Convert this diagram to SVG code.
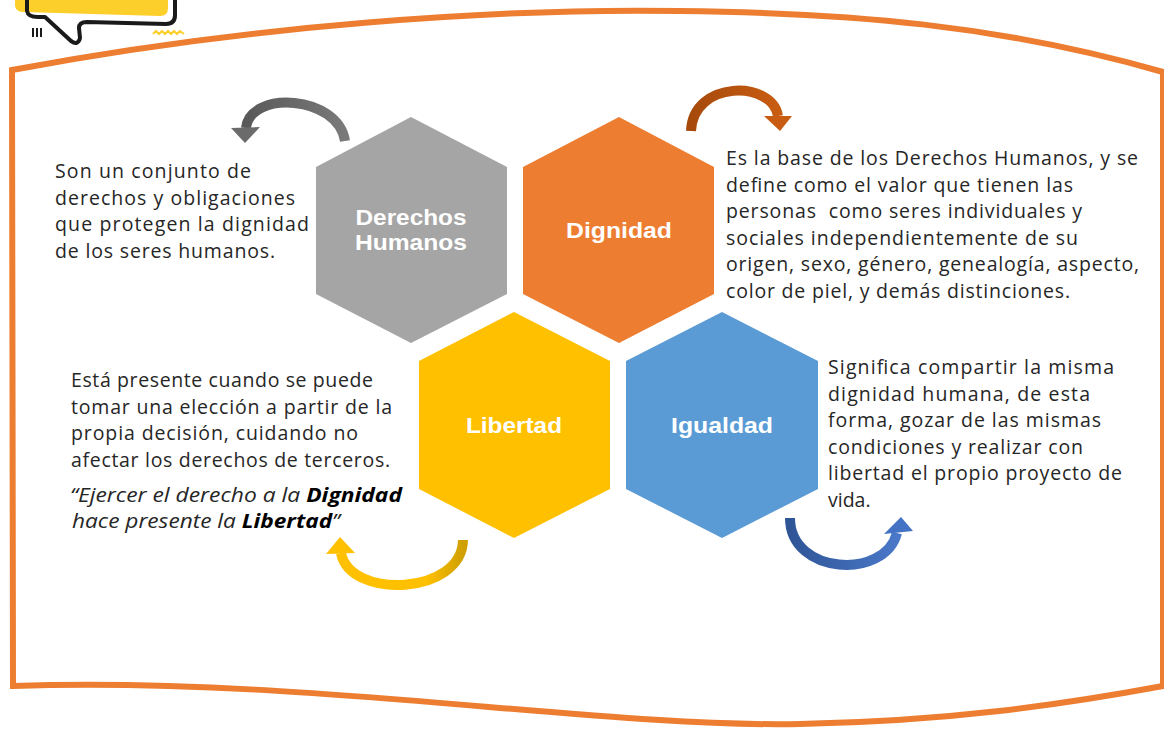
<svg xmlns="http://www.w3.org/2000/svg" width="1164" height="729" viewBox="0 0 1164 729">
  <style>
    .body { font-family: "Open Sans", "Liberation Sans", sans-serif; font-size: 19.5px; fill: #262626; }
    .lbl { font-family: "Liberation Sans", Arial, sans-serif; font-size: 22.5px; font-weight: 700; fill: #ffffff; text-anchor: middle; }
    .it { font-style: italic; }
    .bi { font-style: italic; font-weight: 700; fill: #000; }
    .arc { fill: none; stroke-width: 10; stroke-linecap: butt; }
  </style>
  <defs>
    <linearGradient id="gGray" x1="0" y1="0" x2="1" y2="0">
      <stop offset="0" stop-color="#595959"/><stop offset="1" stop-color="#7a7a7a"/>
    </linearGradient>
    <linearGradient id="gOrange" x1="0" y1="0" x2="1" y2="0">
      <stop offset="0" stop-color="#A64A0C"/><stop offset="1" stop-color="#C85C12"/>
    </linearGradient>
    <linearGradient id="gYellow" x1="0" y1="0" x2="1" y2="0">
      <stop offset="0" stop-color="#FFC000"/><stop offset="0.7" stop-color="#FFC000"/><stop offset="1" stop-color="#CFA000"/>
    </linearGradient>
    <linearGradient id="gBlue" x1="0" y1="0" x2="1" y2="0">
      <stop offset="0" stop-color="#2F5597"/><stop offset="1" stop-color="#4A78C8"/>
    </linearGradient>
  </defs>

  <rect width="1164" height="729" fill="#ffffff"/>

  <!-- frame -->
  <g id="frame">
    <path d="M12,70 C250,25 500,8 680,11 C850,13 1000,25 1163,72 L1163,686 C1060,705 950,721 800,724 C600,728 300,676 13,686 Z" fill="none" stroke="#ED7D31" stroke-width="6" stroke-linejoin="miter"/>
  </g>

  <!-- speech bubble decoration -->
  <g id="bubble">
    <path d="M15,-5 L15,6 Q16,12 24,12 L160,16 Q168,16 168,8 L168,-5 Z" fill="#FDCF2B"/>
    <path d="M27,-5 L27,11 Q28,17 38,17 L45,17 L71,41 Q78,46 80,38 L79,28 Q79,22 87,22 L166,24 Q175,24 175,15 L175,-5" fill="none" stroke="#1a1a1a" stroke-width="4" stroke-linejoin="round"/>
    <path d="M33,28 L33,37 M37,28 L37,37 M41,28 L41,37" stroke="#1a1a1a" stroke-width="2"/>
    <path d="M153,34 L156,31 L159,34 L162,31 L165,34 L168,31 L171,34 L174,31 L177,34 L180,31 L184,34" fill="none" stroke="#FDCF2B" stroke-width="2"/>
  </g>

  <!-- connectors (curved arrows) -->
  <g id="connectors">
    <path class="arc" d="M345,141 C338,95 250,90 246,128" stroke="url(#gGray)"/>
    <polygon points="231,128 260,127 245,143" fill="#6b6b6b"/>

    <path class="arc" d="M691,131 C693,80 772,80 778,116" stroke="url(#gOrange)"/>
    <polygon points="764,116 792,116 780,131" fill="#C85C12"/>

    <path class="arc" d="M463,540 C462,595 350,600 341,553" stroke="url(#gYellow)"/>
    <polygon points="326,554 355,553 340,537" fill="#FFC000"/>

    <path class="arc" d="M790,518 C790,575 885,580 897,533" stroke="url(#gBlue)"/>
    <polygon points="884,534 913,531 901,517" fill="#4472C4"/>
  </g>

  <!-- hexagon nodes -->
  <g id="node-derechos">
    <polygon points="411,117 507,167 507,294 411,343 316,294 316,167" fill="#A5A5A5"/>
    <text class="lbl" x="411" y="225" textLength="111" lengthAdjust="spacingAndGlyphs">Derechos</text>
    <text class="lbl" x="411" y="250" textLength="112" lengthAdjust="spacingAndGlyphs">Humanos</text>
  </g>
  <g id="node-dignidad">
    <polygon points="619,117 714,167 714,294 619,343 523,294 523,167" fill="#ED7D31"/>
    <text class="lbl" x="619" y="238" textLength="106" lengthAdjust="spacingAndGlyphs">Dignidad</text>
  </g>
  <g id="node-libertad">
    <polygon points="514,312 610,361 610,489 514,538 419,489 419,361" fill="#FFC000"/>
    <text class="lbl" x="514" y="433" textLength="96" lengthAdjust="spacingAndGlyphs">Libertad</text>
  </g>
  <g id="node-igualdad">
    <polygon points="722,312 818,361 818,489 722,538 626,489 626,361" fill="#5B9BD5"/>
    <text class="lbl" x="722" y="433" textLength="102" lengthAdjust="spacingAndGlyphs">Igualdad</text>
  </g>

  <!-- descriptions -->
  <g id="text-derechos">
    <text class="body" x="55" y="178" textLength="196">Son un conjunto de</text>
    <text class="body" x="55" y="204.5" textLength="240">derechos y obligaciones</text>
    <text class="body" x="55" y="231" textLength="254">que protegen la dignidad</text>
    <text class="body" x="55" y="257.5" textLength="220">de los seres humanos.</text>
  </g>
  <g id="text-dignidad">
    <text class="body" x="726" y="165" textLength="412">Es la base de los Derechos Humanos, y se</text>
    <text class="body" x="726" y="191.5" textLength="347">define como el valor que tienen las</text>
    <text class="body" x="726" y="218" textLength="356" xml:space="preserve">personas  como seres individuales y</text>
    <text class="body" x="726" y="244.5" textLength="352">sociales independientemente de su</text>
    <text class="body" x="726" y="271" textLength="413">origen, sexo, género, genealogía, aspecto,</text>
    <text class="body" x="726" y="297.5" textLength="344">color de piel, y demás distinciones.</text>
  </g>
  <g id="text-libertad">
    <text class="body" x="71" y="387" textLength="302">Está presente cuando se puede</text>
    <text class="body" x="71" y="413.5" textLength="321">tomar una elección a partir de la</text>
    <text class="body" x="71" y="440" textLength="287">propia decisión, cuidando no</text>
    <text class="body" x="71" y="466.5" textLength="319">afectar los derechos de terceros.</text>
    <text class="body" x="70" y="502" textLength="332" lengthAdjust="spacingAndGlyphs"><tspan class="it">“Ejercer el derecho a la </tspan><tspan class="bi">Dignidad</tspan></text>
    <text class="body" x="72" y="528" textLength="268" lengthAdjust="spacingAndGlyphs"><tspan class="it">hace presente la </tspan><tspan class="bi">Libertad</tspan><tspan class="it">”</tspan></text>
  </g>
  <g id="text-igualdad">
    <text class="body" x="828" y="374" textLength="286">Significa compartir la misma</text>
    <text class="body" x="828" y="400.5" textLength="262">dignidad humana, de esta</text>
    <text class="body" x="828" y="427" textLength="273">forma, gozar de las mismas</text>
    <text class="body" x="828" y="453.5" textLength="255">condiciones y realizar con</text>
    <text class="body" x="828" y="480" textLength="294">libertad el propio proyecto de</text>
    <text class="body" x="828" y="506.5">vida.</text>
  </g>
</svg>
